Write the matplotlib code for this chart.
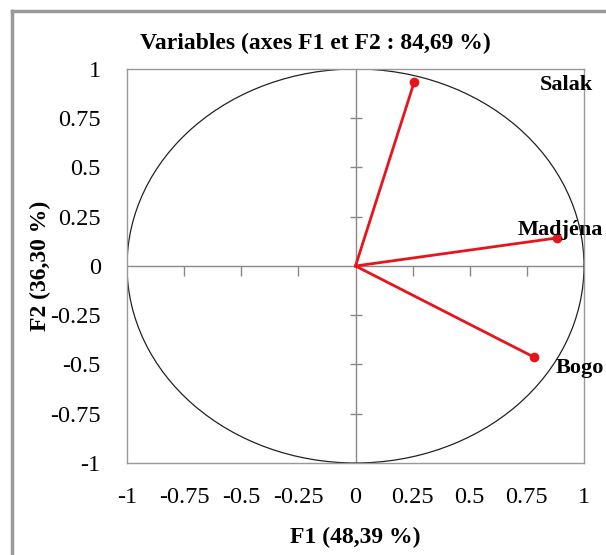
import matplotlib.pyplot as plt
import numpy as np
from matplotlib.patches import Circle

plt.rcParams['font.family'] = ['Liberation Serif', 'DejaVu Serif']

# variable coordinates on F1 / F2
names = ['Salak', 'Madjéna', 'Bogo']
f1 = [0.257, 0.88, 0.78]
f2 = [0.934, 0.142, -0.462]
label_pos = [(0.806, 0.92), (0.71, 0.183), (0.875, -0.518)]

ticks = [-1, -0.75, -0.5, -0.25, 0, 0.25, 0.5, 0.75, 1]
tick_labels = ['-1', '-0.75', '-0.5', '-0.25', '0', '0.25', '0.5', '0.75', '1']

fig = plt.figure(figsize=(6.06, 5.55), dpi=100)
ax = fig.add_axes([0.2096, 0.1658, 0.7541, 0.7099])
ax.set_xlim(-1, 1)
ax.set_ylim(-1, 1)

# circle of correlations
ax.add_patch(Circle((0, 0), 1, fill=False, ec='#222222', lw=0.9, zorder=2))
ax.axhline(0, color='#888888', lw=1, zorder=1)
ax.axvline(0, color='#888888', lw=1, zorder=1)

# small tick marks on the centre axes
inner = [t for t in ticks if t not in (-1, 0, 1)]
ax.plot(inner, [0] * len(inner), ls='none', marker=3, ms=7, color='#888888', mew=1)
ax.plot([0] * len(inner), inner, ls='none', marker='_', ms=9, color='#888888', mew=1)

for x, y, n, (lx, ly) in zip(f1, f2, names, label_pos):
    ax.plot([0, x], [0, y], color='#e8141c', lw=2, zorder=3)
    ax.plot(x, y, 'o', color='#e8141c', ms=6, zorder=4)
    ax.text(lx, ly, n, fontsize=16, fontweight='bold', va='center', ha='left',
            clip_on=False, zorder=5)

ax.set_xticks(ticks)
ax.set_xticklabels(tick_labels)
ax.set_yticks(ticks)
ax.set_yticklabels(tick_labels)
ax.tick_params(axis='x', length=0, pad=17, labelsize=17.5)
ax.tick_params(axis='y', length=0, pad=19, labelsize=17.5)
for s in ax.spines.values():
    s.set_color('#999999')
    s.set_linewidth(1)

ax.set_xlabel('F1 (48,39 %)', fontsize=17, fontweight='bold', labelpad=14)
ax.set_ylabel('F2 (36,30 %)', fontsize=17, fontweight='bold', labelpad=-1)
fig.text(0.52, 0.921, 'Variables (axes F1 et F2 : 84,69 %)', fontsize=17,
         fontweight='bold', ha='center', va='center')

# outer frame (only top and left edges visible in the reference)
fig.add_artist(plt.Line2D([0.019, 1.0], [0.981, 0.981], color='#999999', lw=2.5,
                          transform=fig.transFigure))
fig.add_artist(plt.Line2D([0.019, 0.019], [0.0, 0.981], color='#999999', lw=2.5,
                          transform=fig.transFigure))

fig.savefig('out.png', dpi=100)
